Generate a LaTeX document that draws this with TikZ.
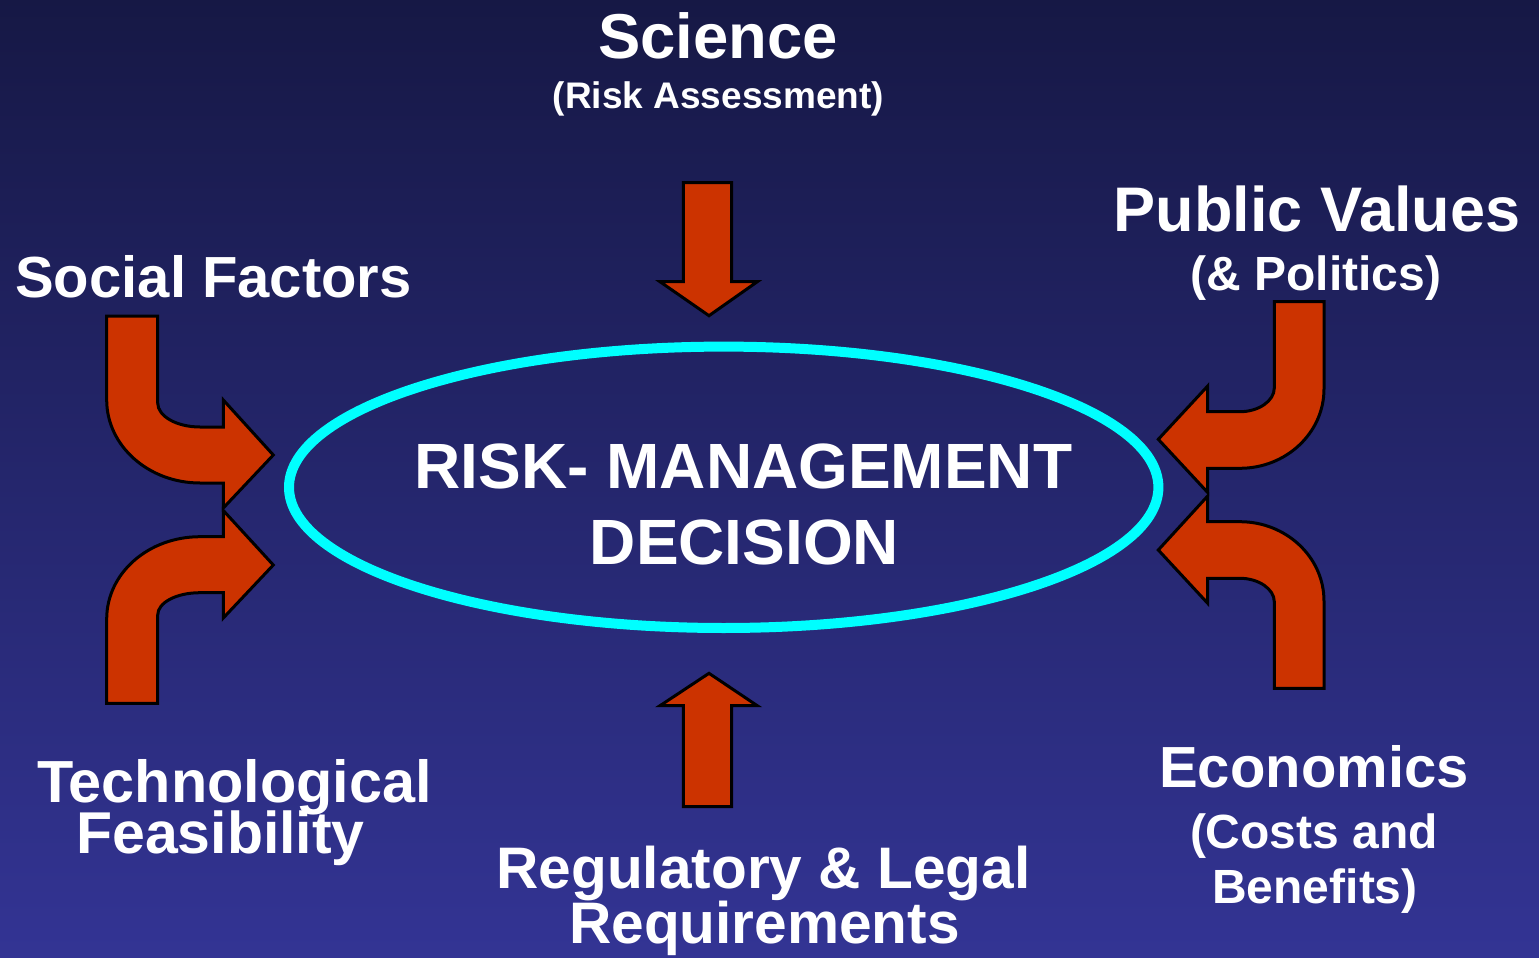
\documentclass[tikz,border=0pt]{standalone}
\usepackage{fontspec}
\setmainfont{Liberation Sans}
\definecolor{bgtop}{RGB}{22,24,69}
\definecolor{bgbot}{RGB}{51,52,148}
\definecolor{arrowred}{RGB}{204,51,0}
\definecolor{ringcyan}{RGB}{0,255,255}
\tikzset{
  bigarrow/.style={fill=arrowred, draw=black, line width=1.5pt, line join=miter},
  lbl/.style={text=white, inner sep=0pt, anchor=base, font=\bfseries},
}
\newcommand{\fsz}[1]{\fontsize{#1}{#1}\selectfont}
\begin{document}
\begin{tikzpicture}[x=0.5pt,y=-0.5pt]
\useasboundingbox (0,0) rectangle (1539,958);
\shade[top color=bgtop, bottom color=bgbot] (0,0) rectangle (1539,958);

% central ellipse
\draw[ringcyan, line width=5pt] (723.7,487.3) ellipse [x radius=217.35pt, y radius=70.35pt];

% straight arrows
\draw[bigarrow] (683.3,182.7) -- (731.7,182.7) -- (731.7,281.7) -- (757.3,281.7) -- (709,315.7) -- (660,281.7) -- (683.3,281.7) -- cycle;
\draw[bigarrow] (683.3,806.7) -- (731.7,806.7) -- (731.7,705.7) -- (757.3,705.7) -- (709,673.3) -- (660,705.7) -- (683.3,705.7) -- cycle;

% left curved arrows
\draw[bigarrow] (106.7,316) -- (157.7,316) -- (157.7,403)
  .. controls (157.7,416.2) and (176.6,427) .. (200,427) -- (223.3,427) -- (223.3,400)
  -- (273.3,455) -- (223.3,508) -- (223.3,483) -- (200,483)
  .. controls (148.5,483) and (106.7,445.8) .. (106.7,400) -- cycle;
\draw[bigarrow] (106.7,703.3) -- (157.7,703.3) -- (157.7,615)
  .. controls (157.7,602.5) and (176.6,592.7) .. (200,592.7) -- (223.3,592.7) -- (223.3,618)
  -- (273.3,565) -- (223.3,510.5) -- (223.3,536.7) -- (200,536.7)
  .. controls (148.5,536.7) and (106.7,573) .. (106.7,619) -- cycle;

% right curved arrows
\draw[bigarrow] (1324,301.7) -- (1274.3,301.7) -- (1274.3,388)
  .. controls (1274.3,401) and (1258.5,411.7) .. (1240,411.7) -- (1207.7,411.7) -- (1207.7,386)
  -- (1158.3,439.3) -- (1207.7,492.5) -- (1207.7,468.3) -- (1240,468.3)
  .. controls (1286,468.3) and (1324,433) .. (1324,389) -- cycle;
\draw[bigarrow] (1324,688.3) -- (1274.3,688.3) -- (1274.3,601.7)
  .. controls (1274.3,589) and (1258.5,578.3) .. (1240,578.3) -- (1207.7,578.3) -- (1207.7,603.3)
  -- (1158.3,550) -- (1207.7,496) -- (1207.7,521.7) -- (1240,521.7)
  .. controls (1286,521.7) and (1324,557) .. (1324,601) -- cycle;

% labels
\node[lbl, font=\bfseries\fsz{31.7}] (sci) at (718,58) {Science};
\node[lbl, font=\bfseries\fsz{18.5}] (sci2) at (718.5,108) {(Risk Assessment)};
\node[lbl, font=\bfseries\fsz{29}] (soc) at (213.5,297) {Social Factors};
\node[lbl, font=\bfseries\fsz{31.5}] (pub) at (1317,231) {Public Values};
\node[lbl, font=\bfseries\fsz{24}] (pub2) at (1316,290) {(\& Politics)};
\node[lbl, font=\bfseries\fsz{32}] (rm1) at (743.5,488) {RISK- MANAGEMENT};
\node[lbl, font=\bfseries\fsz{32}] (rm2) at (744.5,564) {DECISION};
\node[lbl, font=\bfseries\fsz{29.7}] (tech1) at (234.5,802.3) {Technological};
\node[lbl, font=\bfseries\fsz{29.5}] (tech2) at (220.5,853.3) {Feasibility};
\node[lbl, font=\bfseries\fsz{29.3}] (reg1) at (763.5,888) {Regulatory \& Legal};
\node[lbl, font=\bfseries\fsz{29.3}] (reg2) at (764.5,943) {Requirements};
\node[lbl, font=\bfseries\fsz{29}] (eco1) at (1314,787) {Economics};
\node[lbl, font=\bfseries\fsz{24}] (eco2) at (1314,848) {(Costs and};
\node[lbl, font=\bfseries\fsz{24}] (eco3) at (1315,903) {Benefits)};
\end{tikzpicture}
\end{document}
